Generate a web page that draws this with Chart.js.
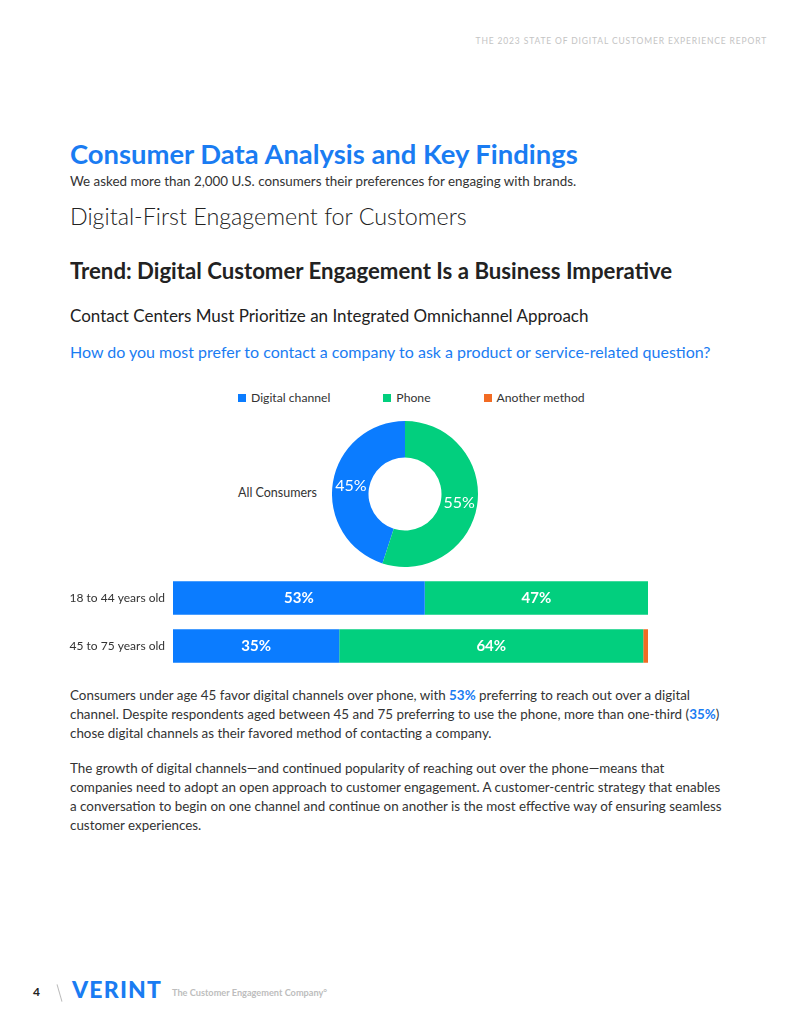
<!DOCTYPE html>
<html>
<head>
<meta charset="utf-8">
<script src="https://cdn.jsdelivr.net/npm/chart.js@4.4.1/dist/chart.umd.min.js"></script>
<style>
  body { margin: 0; background: #fff; font-family: Lato, sans-serif; color: #333; }
  .page { position: relative; width: 800px; height: 1035px; overflow: hidden; }
  .abs { position: absolute; white-space: nowrap; line-height: 1.2; }
  .header { right: 33px; top: 35.6px; font-size: 8.5px; letter-spacing: 0.85px; color: #c4c4c4; }
  .title { left: 70px; top: 138px; font-size: 27.4px; font-weight: bold; color: #1a7cf2; }
  .subtitle { left: 70px; top: 173px; font-size: 13.4px; color: #333; }
  .h2 { left: 70px; top: 202.5px; font-size: 23.3px; font-weight: 300; color: #222; }
  .h3 { left: 70px; top: 257.5px; font-size: 22.2px; font-weight: bold; color: #222; }
  .h4 { left: 70px; top: 305.5px; font-size: 17px; color: #222; }
  .question { left: 70px; top: 342.2px; font-size: 16px; color: #1a7cf2; }
  .para { left: 70px; font-size: 13.4px; line-height: 19px; color: #333; }
  .para b { color: #1a7cf2; }
  .custom-legend { position: absolute; left: 238px; top: 390px; margin: 0; padding: 0; list-style: none; display: flex; gap: 53px; font-size: 12.2px; color: #333; }
  .custom-legend li { display: flex; align-items: center; }
  .legend-color { display: inline-block; width: 8px; height: 8px; margin-right: 5px; }
  .all-label { left: 238px; top: 484.5px; font-size: 12.5px; color: #333; }
  #pizza { position: absolute; left: 332px; top: 421px; }
  #barras { position: absolute; left: 0; top: 567px; }
  .pagenum { left: 33px; top: 985px; font-size: 12px; font-weight: bold; color: #222; }
  .slash { position: absolute; left: 59px; top: 984px; width: 1px; height: 18px; background: #bbb; transform: rotate(-16deg); }
  .verint { left: 72px; top: 976px; font-size: 23px; font-weight: 900; letter-spacing: 1.2px; color: #1a7cf2; }
  .tagline { left: 172px; top: 987px; font-size: 9.2px; font-weight: bold; color: #bdbdbd; }
</style>
</head>
<body>
<div class="page">
  <div class="abs header">THE 2023 STATE OF DIGITAL CUSTOMER EXPERIENCE REPORT</div>
  <div class="abs title">Consumer Data Analysis and Key Findings</div>
  <div class="abs subtitle">We asked more than 2,000 U.S. consumers their preferences for engaging with brands.</div>
  <div class="abs h2">Digital-First Engagement for Customers</div>
  <div class="abs h3">Trend: Digital Customer Engagement Is a Business Imperative</div>
  <div class="abs h4">Contact Centers Must Prioritize an Integrated Omnichannel Approach</div>
  <div class="abs question">How do you most prefer to contact a company to ask a product or service-related question?</div>

  <ul class="custom-legend"></ul>
  <div class="abs all-label">All Consumers</div>
  <canvas id="pizza" width="146" height="146"></canvas>
  <canvas id="barras" width="660" height="110"></canvas>

  <div class="abs para" style="top:685.5px">Consumers under age 45 favor digital channels over phone, with <b>53%</b> preferring to reach out over a digital<br>channel. Despite respondents aged between 45 and 75 preferring to use the phone, more than one-third (<b>35%</b>)<br>chose digital channels as their favored method of contacting a company.</div>
  <div class="abs para" style="top:758.5px">The growth of digital channels—and continued popularity of reaching out over the phone—means that<br>companies need to adopt an open approach to customer engagement. A customer-centric strategy that enables<br>a conversation to begin on one channel and continue on another is the most effective way of ensuring seamless<br>customer experiences.</div>

  <div class="abs pagenum">4</div>
  <div class="slash"></div>
  <div class="abs verint">VERINT</div>
  <div class="abs tagline">The Customer Engagement Company°</div>
</div>

<script>
// dados do gráfico
const seriesLabels = ['Digital channel', 'Phone', 'Another method'];
const allConsumers = [45, 55, 0];
const ageGroups = ['18 to 44 years old', '45 to 75 years old'];
const digital = [53, 35];
const phone = [47, 64];
const another = [0, 1];

const colors = ['#0b7cff', '#02cf7e', '#f26b23'];

document.addEventListener('DOMContentLoaded', function() {
    // legenda personalizada
    const legendContainer = document.querySelector('.custom-legend');
    legendContainer.innerHTML = createLegendHTML(seriesLabels, colors);

    // texto branco no meio de cada fatia / barra
    const valueLabels = {
        id: 'valueLabels',
        afterDatasetsDraw(chart) {
            const ctx = chart.ctx;
            const isBar = chart.config.type === 'bar';
            ctx.save();
            ctx.fillStyle = '#fff';
            ctx.textAlign = 'center';
            ctx.textBaseline = 'middle';
            ctx.font = isBar ? 'bold 15px Lato' : '16px Lato';
            chart.data.datasets.forEach((ds, i) => {
                chart.getDatasetMeta(i).data.forEach((el, j) => {
                    const v = ds.data[j];
                    if (v < 5) return;
                    let x, y;
                    if (isBar) {
                        const p = el.getProps(['x', 'y', 'base'], true);
                        x = (p.x + p.base) / 2;
                        y = p.y;
                    } else {
                        const p = el.tooltipPosition(true);
                        x = p.x;
                        y = p.y;
                    }
                    ctx.fillText(v + '%', x, y);
                });
            });
            ctx.restore();
        }
    };

    const total = allConsumers.reduce((a, b) => a + b, 0);

    new Chart(document.getElementById('pizza').getContext('2d'), {
        type: 'doughnut',
        data: {
            labels: seriesLabels,
            datasets: [{
                data: allConsumers,
                backgroundColor: colors,
                borderWidth: 0
            }]
        },
        options: {
            responsive: false,
            animation: false,
            cutout: '50%',
            // começa o azul depois do verde, como no original
            rotation: (allConsumers[1] / total) * 360,
            plugins: {
                legend: { display: false },
                tooltip: { enabled: false }
            }
        },
        plugins: [valueLabels]
    });

    new Chart(document.getElementById('barras').getContext('2d'), {
        type: 'bar',
        data: {
            labels: ageGroups,
            datasets: [
                { label: seriesLabels[0], data: digital, backgroundColor: colors[0] },
                { label: seriesLabels[1], data: phone, backgroundColor: colors[1] },
                { label: seriesLabels[2], data: another, backgroundColor: colors[2] }
            ].map(d => Object.assign(d, { borderWidth: 0, barPercentage: 1, categoryPercentage: 0.7 }))
        },
        options: {
            indexAxis: 'y',
            responsive: false,
            animation: false,
            layout: { padding: { top: 0, bottom: 0, right: 12 } },
            scales: {
                x: { stacked: true, min: 0, max: 100, display: false },
                y: {
                    stacked: true,
                    grid: { display: false },
                    border: { display: false },
                    ticks: { color: '#333', font: { family: 'Lato', size: 12 }, padding: 0 },
                    afterFit: function(scale) { scale.width = 173; }
                }
            },
            plugins: {
                legend: { display: false },
                tooltip: { enabled: false }
            }
        },
        plugins: [valueLabels]
    });
});

function createLegendHTML(labels, backgroundColors) {
    let legendHTML = '';
    for (let i = 0; i < labels.length; i++) {
        legendHTML += `<li><span class="legend-color" style="background-color: ${backgroundColors[i]}"></span>${labels[i]}</li>`;
    }
    return legendHTML;
}
</script>
</body>
</html>
